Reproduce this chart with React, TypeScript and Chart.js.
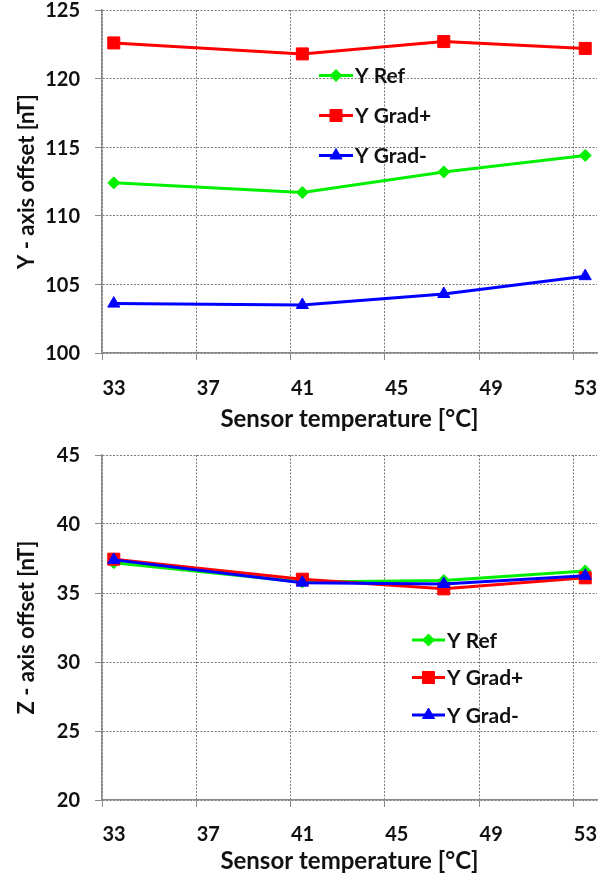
import React, { useEffect, useRef } from 'react';
import { Chart, registerables } from 'chart.js';
import { drawPoint } from 'chart.js/helpers';

Chart.register(...registerables);
Chart.defaults.font.family = 'Lato, "Noto Sans", sans-serif';

// ---- data ----
const temperatures = [33, 41, 47, 53];
const xTickValues = [33, 37, 41, 45, 49, 53];
const xTickLabels = ['33', '37', '41', '45', '49', '53'];
const seriesLabels = ['Y Ref', 'Y Grad+', 'Y Grad-'];

const yRefTop = [112.4, 111.7, 113.2, 114.4];
const yGradPlusTop = [122.6, 121.8, 122.7, 122.2];
const yGradMinusTop = [103.6, 103.5, 104.3, 105.6];
const yTicksTop = [100, 105, 110, 115, 120, 125];

const zRef = [37.2, 35.8, 35.9, 36.6];
const zGradPlus = [37.45, 36.0, 35.3, 36.1];
const zGradMinus = [37.4, 35.75, 35.65, 36.25];
const yTicksBottom = [20, 25, 30, 35, 40, 45];

const topYTitle = 'Y - axis offset [nT]';
const bottomYTitle = 'Z - axis offset [nT]';
const xTitle = 'Sensor temperature [°C]';

// ---- styles ----
const seriesStyles = [
  { color: '#00f000', pointStyle: 'rectRot', radius: 6 },
  { color: '#ff0000', pointStyle: 'rect', radius: 8.5 },
  { color: '#0000ff', pointStyle: 'triangle', radius: 7 },
];
const TEXT = '#111111';
const GRID = '#7a7a7a';
const AXIS = '#8a8a8a';
const FONT = 'Lato, "Noto Sans", sans-serif';

const insideLegend = {
  id: 'insideLegend',
  afterDatasetsDraw(chart: any, _args: any, opts: any) {
    const { ctx } = chart;
    chart.data.datasets.forEach((ds: any, i: number) => {
      const yy = opts.y + i * opts.gap;
      ctx.save();
      ctx.strokeStyle = ds.borderColor;
      ctx.lineWidth = ds.borderWidth;
      ctx.beginPath();
      ctx.moveTo(opts.x, yy);
      ctx.lineTo(opts.x + opts.lineLength, yy);
      ctx.stroke();
      ctx.fillStyle = ds.pointBackgroundColor;
      ctx.strokeStyle = ds.pointBorderColor;
      ctx.lineWidth = 1;
      drawPoint(
        ctx,
        { pointStyle: ds.pointStyle, radius: ds.pointRadius, rotation: 0, borderWidth: 1 } as any,
        opts.x + opts.lineLength / 2,
        yy
      );
      ctx.fillStyle = TEXT;
      ctx.font = `bold 21px ${FONT}`;
      ctx.textBaseline = 'middle';
      ctx.textAlign = 'left';
      ctx.fillText(ds.label, opts.x + opts.lineLength + 2, yy + 1);
      ctx.restore();
    });
  },
};

// y tick labels placed through the y scale (value -> pixel)
const yTickLabelsPlugin = {
  id: 'yTickLabels',
  afterDraw(chart: any, _args: any, opts: any) {
    const s = chart.scales.y;
    const { ctx } = chart;
    ctx.save();
    ctx.font = `bold 20px ${FONT}`;
    ctx.fillStyle = TEXT;
    ctx.textAlign = 'right';
    ctx.textBaseline = 'middle';
    (opts.values as number[]).forEach((v) => {
      ctx.fillText(String(v), s.right - opts.gap, s.getPixelForValue(v) + 1);
    });
    ctx.restore();
  },
};

type Props = {
  series: number[][];
  yTicks: number[];
  yTitle: string;
  padTop: number;
  xAxisHeight: number;
  xLabelPad: number;
  xTitlePad: number;
  legend: { x: number; y: number; gap: number; lineLength: number };
};

function OffsetChart(p: Props) {
  const ref = useRef<HTMLCanvasElement>(null);
  useEffect(() => {
    if (!ref.current) return;
    const chart = new Chart(ref.current, {
      type: 'line',
      data: {
        datasets: p.series.map((vals, i) => ({
          label: seriesLabels[i],
          data: temperatures.map((t, j) => ({ x: t, y: vals[j] })),
          borderColor: seriesStyles[i].color,
          backgroundColor: seriesStyles[i].color,
          pointBackgroundColor: seriesStyles[i].color,
          pointBorderColor: seriesStyles[i].color,
          pointStyle: seriesStyles[i].pointStyle as any,
          pointRadius: seriesStyles[i].radius,
          pointBorderWidth: 1,
          borderWidth: 3,
          tension: 0,
          order: 3 - i,
        })),
      },
      options: {
        animation: false,
        responsive: false,
        layout: { padding: { top: p.padTop, right: 16, left: 0, bottom: 0 } },
        plugins: {
          legend: { display: false },
          tooltip: { enabled: false },
          insideLegend: p.legend,
          yTickLabels: { values: p.yTicks, gap: 22 },
        } as any,
        scales: {
          x: {
            type: 'linear',
            min: 32.5,
            max: 53.5,
            afterBuildTicks: (s: any) => {
              s.ticks = xTickValues.map((v) => ({ value: v - 0.5 }));
            },
            afterFit: (s: any) => {
              s.height = p.xAxisHeight;
            },
            ticks: {
              callback: (_v: any, i: number) => xTickLabels[i],
              labelOffset: 12,
              padding: p.xLabelPad,
              maxRotation: 0,
              autoSkip: false,
              color: TEXT,
              font: { size: 20, weight: 'bold' },
            },
            grid: { color: GRID, lineWidth: 1, tickLength: 7, tickColor: AXIS, tickWidth: 1 },
            border: { display: true, color: AXIS, width: 1.5, dash: [2, 1.5] },
            title: {
              display: true,
              text: xTitle,
              color: TEXT,
              font: { size: 24, weight: 'bold' },
              padding: { top: 0, bottom: p.xTitlePad },
            },
          },
          y: {
            type: 'linear',
            min: p.yTicks[0],
            max: p.yTicks[p.yTicks.length - 1],
            afterBuildTicks: (s: any) => {
              s.ticks = p.yTicks.map((v) => ({ value: v }));
            },
            afterFit: (s: any) => {
              s.width = 102;
              s.paddingTop = 0;
              s.paddingBottom = 0;
            },
            ticks: { display: false },
            grid: { color: GRID, lineWidth: 1, tickLength: 7, tickColor: AXIS, tickWidth: 1 },
            border: { display: true, color: AXIS, width: 1.5, dash: [2, 1.5] },
            title: {
              display: true,
              text: p.yTitle,
              color: TEXT,
              font: { size: 22, weight: 'bold' },
              padding: { top: 13.8, bottom: 0 },
            },
          },
        },
      } as any,
      plugins: [insideLegend, yTickLabelsPlugin],
    });
    return () => chart.destroy();
  }, []);
  return <canvas ref={ref} width={613} height={440} style={{ display: 'block', width: 613, height: 440 }} />;
}

export default function App() {
  return (
    <div style={{ position: 'absolute', left: 0, top: 0, width: 613, height: 880, background: '#fff' }}>
      <OffsetChart
        series={[yRefTop, yGradPlusTop, yGradMinusTop]}
        yTicks={yTicksTop}
        yTitle={topYTitle}
        padTop={10}
        xAxisHeight={87}
        xLabelPad={17}
        xTitlePad={6}
        legend={{ x: 319, y: 75.5, gap: 40, lineLength: 34 }}
      />
      <OffsetChart
        series={[zRef, zGradPlus, zGradMinus]}
        yTicks={yTicksBottom}
        yTitle={bottomYTitle}
        padTop={15}
        xAxisHeight={80}
        xLabelPad={16}
        xTitlePad={4}
        legend={{ x: 412, y: 200, gap: 37.5, lineLength: 33 }}
      />
    </div>
  );
}
